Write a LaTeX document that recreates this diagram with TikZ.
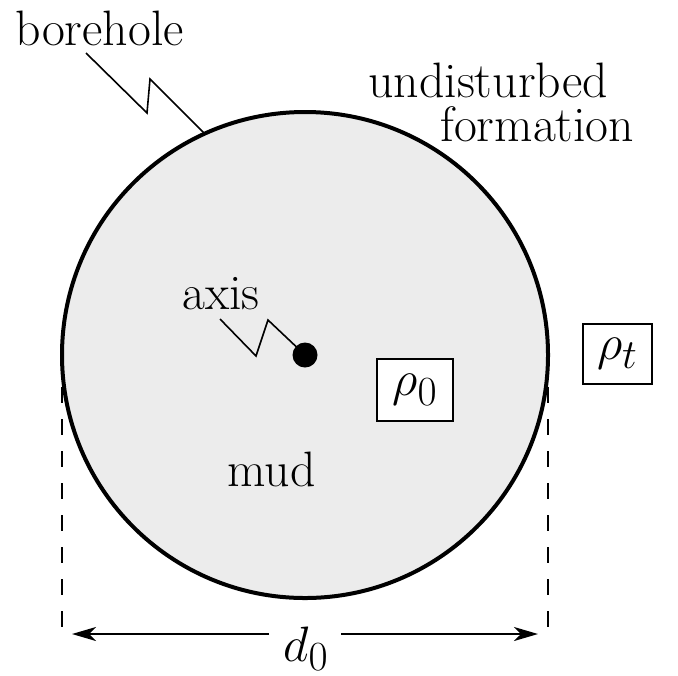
\documentclass[tikz,border=0pt]{standalone}
\usetikzlibrary{arrows.meta}
\begin{document}
\begin{tikzpicture}[x=0.5pt,y=-0.5pt,
  lbl/.style={anchor=base west,inner sep=0,font=\fontsize{24.88}{30}\selectfont},
  rhobox/.style={draw,line width=0.8pt,fill=white,inner sep=0,font=\fontsize{24.88}{30}\selectfont},
  pointer/.style={line width=0.8pt,line join=miter},
  dimline/.style={line width=1.2pt,-{Stealth[length=12pt,width=7pt,inset=3.5pt]}},
  guide/.style={line width=1pt,dash pattern=on 8pt off 8pt}]
\useasboundingbox (0,0) rectangle (678,675);
% borehole
\node[circle,draw,line width=2pt,fill=gray!15,minimum size=243pt,inner sep=0,outer sep=0] (bore) at (305,355) {};
\node[circle,fill=black,inner sep=0,minimum size=12.5pt] (dot) at (305,355) {};
% labels
\node[lbl] (borehole) at (15,45) {borehole};
\node[lbl] (undist) at (368,97) {undisturbed};
\node[lbl] (form) at (440,141) {formation};
\node[lbl] (axis) at (182,309) {axis};
\node[lbl] (mud) at (227,486) {mud};
\node[lbl] (d0) at (283,661) {$d_0$};
\node[rhobox,minimum width=38pt,minimum height=31pt] (rho0) at (415,390) {$\rho_0$};
\node[rhobox,minimum width=34.5pt,minimum height=30pt] (rhot) at (617.5,354) {$\rho_t$};
% pointer coordinates
\coordinate (b1) at (86,53);
\coordinate (b2) at (147,113);
\coordinate (b3) at (150,79);
\coordinate (b4) at (205,134);
\coordinate (a1) at (220,319);
\coordinate (a2) at (256,356);
\coordinate (a3) at (268,320);
\draw[pointer] (b1) -- (b2) -- (b3) -- (b4);
\draw[pointer] (a1) -- (a2) -- (a3) -- (dot.center);
% dimension
\coordinate (gl) at (62,355);
\coordinate (gle) at (62,628);
\coordinate (gr) at (548,355);
\coordinate (gre) at (548,628);
\draw[guide] (gl) -- (gle);
\draw[guide] (gr) -- (gre);
\coordinate (al) at (269,634);
\coordinate (tl) at (72,634);
\coordinate (ar) at (341,634);
\coordinate (tr) at (538,634);
\draw[dimline] (al) -- (tl);
\draw[dimline] (ar) -- (tr);
\end{tikzpicture}
\end{document}
